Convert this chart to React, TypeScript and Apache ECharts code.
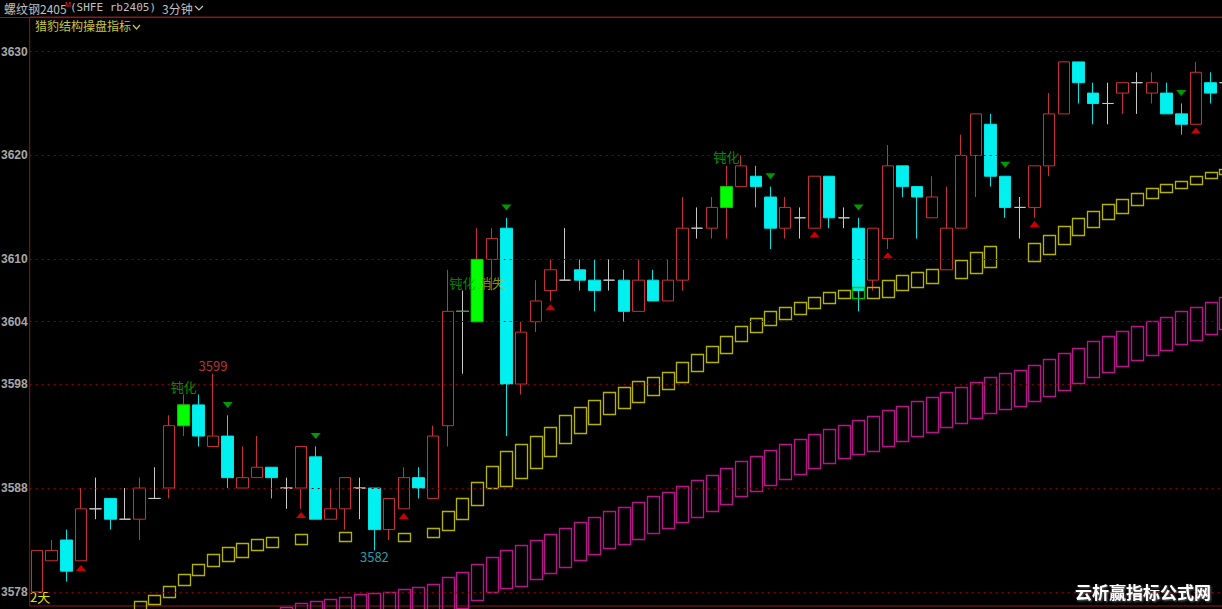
import React, { useEffect, useRef } from 'react';
import * as echarts from 'echarts';

const Y_MIN = 3576.65;
const Y_MAX = 3633.32;
const yTickValues = [3578, 3588, 3598, 3604, 3610, 3620, 3630];

const opens = [3578,3581,3583,3581,3586,3587,3585,3585,3587,3588,3594,3596,3592,3593,3588,3589,3590,3588,3588,3591,3585,3586,3588,3588,3584,3586,3589,3587,3594,3605,3604,3610,3613,3598,3604,3607,3608,3609,3608,3608,3608,3605,3608,3606,3608,3613,3613,3615,3617,3618,3616,3613,3614,3613,3618,3614,3613,3608,3612,3619,3617,3614,3609,3613,3620,3623,3618,3615,3615,3619,3624,3629,3626,3625,3626,3627,3626,3626,3624,3623,3627,3627];
const closes = [3582,3582,3580,3586,3586,3585,3585,3588,3587,3594,3596,3593,3593,3589,3589,3590,3589,3588,3592,3585,3586,3589,3588,3584,3587,3589,3588,3593,3605,3605,3610,3612,3598,3603,3606,3609,3608,3608,3607,3608,3605,3608,3606,3608,3613,3613,3615,3617,3619,3617,3613,3615,3614,3618,3614,3614,3607,3613,3619,3617,3616,3616,3613,3620,3624,3618,3615,3615,3619,3624,3629,3627,3625,3625,3627,3627,3627,3624,3623,3628,3626,3627];
const lows = [3578,3581,3579,3581,3585,3584,3585,3583,3587,3587,3593,3592,3592,3588,3588,3589,3587,3586,3586,3585,3585,3584,3585,3582,3583,3586,3587,3587,3592,3599,3604,3607,3593,3597,3603,3606,3608,3607,3605,3607,3604,3605,3606,3606,3607,3612,3612,3612,3617,3615,3611,3612,3612,3613,3613,3613,3605,3607,3611,3616,3612,3614,3609,3613,3616,3617,3614,3612,3614,3618,3624,3625,3623,3623,3624,3624,3625,3624,3622,3623,3625,3626];
const highs = [3582,3583,3584,3588,3589,3587,3588,3589,3590,3595,3597,3597,3599,3595,3592,3593,3590,3589,3592,3592,3588,3589,3589,3588,3587,3590,3590,3594,3609,3607,3613,3613,3614,3604,3608,3610,3613,3610,3610,3610,3609,3610,3609,3610,3616,3615,3616,3619,3620,3619,3617,3616,3615,3618,3618,3615,3614,3613,3621,3619,3617,3618,3617,3622,3624,3624,3618,3616,3619,3626,3629,3629,3627,3627,3627,3628,3628,3627,3625,3629,3628,3628];
const greenCandles = [10, 29, 30, 47];

const yellowTop = [null,null,null,null,null,null,null,3577.1,3577.7,3578.6,3579.7,3580.7,3581.7,3582.3,3582.7,3583.1,3583.3,null,3583.6,null,null,3583.8,null,null,null,3583.7,null,3584.2,3585.8,3587.0,3588.6,3590.1,3591.6,3592.2,3593.0,3593.9,3595.0,3595.8,3596.5,3597.2,3597.7,3598.3,3598.7,3599.2,3600.1,3600.9,3601.7,3602.6,3603.6,3604.4,3605.0,3605.4,3605.9,3606.4,3606.9,3607.1,3607.3,3607.3,3608.0,3608.5,3608.8,3609.1,null,3609.9,3610.7,3611.3,null,null,3611.6,3612.3,3613.2,3614.0,3614.7,3615.3,3615.8,3616.4,3616.9,3617.3,3617.5,3618.0,3618.4,3618.7];
const yellowBottom = [null,null,null,null,null,null,null,3575.5,3576.8,3577.5,3578.6,3579.6,3580.5,3581.0,3581.4,3582.0,3582.3,null,3582.6,null,null,3582.9,null,null,null,3582.9,null,3583.3,3584.0,3585.0,3586.4,3588.0,3588.2,3588.9,3589.9,3591.1,3592.3,3593.3,3594.2,3595.1,3595.7,3596.3,3597.0,3597.6,3598.2,3599.3,3600.2,3601.0,3602.2,3603.1,3603.7,3604.2,3604.7,3605.3,3605.8,3606.3,3606.2,3606.2,3606.4,3607.1,3607.4,3607.8,null,3608.2,3608.7,3609.3,null,null,3609.9,3610.5,3611.5,3612.4,3613.2,3613.9,3614.5,3615.2,3615.9,3616.5,3616.8,3617.2,3617.8,3618.2];
const yellowGreenIdx = [56];

const magentaTop = [null,null,null,null,null,null,null,null,null,null,null,null,null,null,null,null,null,3576.6,3576.9,3577.1,3577.3,3577.5,3577.8,3577.9,3578.0,3578.3,3578.5,3578.8,3579.4,3579.9,3580.7,3581.4,3582.0,3582.5,3583.0,3583.6,3584.2,3584.7,3585.2,3585.8,3586.2,3586.7,3587.2,3587.6,3588.2,3588.8,3589.3,3589.9,3590.6,3591.1,3591.7,3592.2,3592.7,3593.2,3593.7,3594.1,3594.5,3594.9,3595.5,3595.9,3596.4,3596.8,3597.2,3597.7,3598.2,3598.7,3599.1,3599.4,3599.8,3600.4,3601.0,3601.5,3602.1,3602.6,3603.1,3603.6,3604.1,3604.5,3605.0,3605.4,3605.9,3606.4];
const magentaBottom = [null,null,null,null,null,null,null,null,null,null,null,null,null,null,null,null,null,3573.0,3573.3,3573.5,3573.7,3573.9,3574.2,3574.3,3574.4,3574.7,3574.9,3575.2,3575.8,3576.4,3577.2,3578.0,3578.3,3578.6,3579.2,3579.8,3580.4,3581.0,3581.6,3582.2,3582.6,3583.1,3583.6,3584.1,3584.7,3585.2,3585.8,3586.4,3587.2,3587.7,3588.3,3588.8,3589.3,3589.9,3590.4,3590.9,3591.2,3591.5,3592.0,3592.5,3593.0,3593.4,3593.8,3594.2,3594.7,3595.2,3595.6,3595.9,3596.3,3596.8,3597.4,3598.1,3598.6,3599.1,3599.7,3600.3,3600.8,3601.3,3601.8,3602.2,3602.8,3603.3];

const redUpMarks = [[3,3580.3],[18,3585.4],[25,3585.3],[35,3605.4],[53,3612.4],[58,3610.4],[68,3613.4],[79,3622.4]];
const greenDownMarks = [[13,3596.0],[19,3593.0],[32,3615.0],[50,3618.0],[56,3615.0],[66,3619.1],[78,3626.0]];

const textMarks = [
  { i: 12, v: 3599.8, text: '3599', color: '#e84040' },
  { i: 23, v: 3581.4, text: '3582', color: '#30c8d8' },
  { i: 10, v: 3597.8, text: '钝化', color: '#00b400' },
  { i: 29, v: 3607.8, text: '钝化', color: '#00a800' },
  { i: 31, v: 3607.8, text: '消失', color: '#b4b400' },
  { i: 47, v: 3619.9, text: '钝化', color: '#00b400' },
];

const categories = opens.map((_, i) => String(i));

function boxSeries(name: string, tops: (number | null)[], bottoms: (number | null)[], color: string, specialIdx: number[], specialColor: string) {
  const data: any[] = [];
  tops.forEach((t, i) => {
    if (t != null && bottoms[i] != null) data.push([i, t, bottoms[i]]);
  });
  return {
    type: 'custom',
    name,
    data,
    encode: { x: 0, y: [1, 2] },
    silent: true,
    z: 4,
    renderItem: (params: any, api: any) => {
      const i = api.value(0);
      const p1 = api.coord([i, api.value(1)]);
      const p2 = api.coord([i, api.value(2)]);
      const w = api.size([1, 0])[0] * 0.83;
      const cs = params.coordSys;
      const y1 = Math.max(p1[1], cs.y);
      const y2 = Math.min(p2[1], cs.y + cs.height + 6);
      if (y2 <= y1) return null;
      const c = specialIdx.indexOf(i) >= 0 ? specialColor : color;
      return {
        type: 'rect',
        shape: { x: Math.round(p1[0] - w / 2) + 0.5, y: Math.round(y1) + 0.5, width: Math.round(w), height: Math.round(y2 - y1) },
        style: { fill: 'none', stroke: c, lineWidth: 1.3 },
      };
    },
  };
}

export default function App() {
  const ref = useRef<HTMLDivElement>(null);
  useEffect(() => {
    document.body.style.margin = '0';
    document.body.style.background = '#000';
    document.body.style.overflow = 'hidden';
    const chart = echarts.init(ref.current!, null, { renderer: 'svg' });

    const candleData = opens.map((o, i) => {
      const item: any = { value: [o, closes[i], lows[i], highs[i]] };
      if (o === closes[i]) {
        item.itemStyle = { borderColor: '#c8c8c8', borderColor0: '#c8c8c8', color: '#c8c8c8', color0: '#c8c8c8' };
      }
      return item;
    });

    const greenBody = greenCandles.map((i) => [i, opens[i], closes[i]]);

    const option: any = {
      backgroundColor: '#000000',
      animation: false,
      grid: { left: 29.67, right: -10.6, top: 17, bottom: 3, outerBoundsMode: 'none', containLabel: false, show: true, borderColor: '#8b1a1a', borderWidth: 1, backgroundColor: 'transparent' },
      xAxis: {
        type: 'category', data: categories, boundaryGap: true,
        axisLine: { show: false }, axisTick: { show: false }, axisLabel: { show: false }, splitLine: { show: false },
      },
      yAxis: {
        type: 'value', min: Y_MIN, max: Y_MAX, position: 'left',
        axisLine: { show: false }, axisTick: { show: false }, splitLine: { show: false },
        axisLabel: { customValues: yTickValues, formatter: (v: number) => String(Math.round(v)), color: '#a8a8a8', fontSize: 12, fontWeight: 'bold', margin: 2, fontFamily: 'Liberation Sans, Arial, sans-serif' },
      },
      graphic: [
        { type: 'line', shape: { x1: 0, y1: 17.5, x2: 1222, y2: 17.5 }, style: { stroke: '#8b1a1a', lineWidth: 1 }, z: 10 },
        { type: 'text', left: 4, top: 2, style: { text: '螺纹钢2405', fill: '#c0c0c0', font: '12px "Noto Sans CJK SC", sans-serif' } },
        { type: 'text', left: 65, top: 1, style: { text: 'M', fill: '#e03030', font: '7px "Liberation Sans", sans-serif' } },
        { type: 'text', left: 70, top: 2, style: { text: '(SHFE rb2405)', fill: '#c0c0c0', font: '11px "DejaVu Sans Mono", monospace' } },
        { type: 'text', left: 162, top: 2, style: { text: '3分钟', fill: '#c0c0c0', font: '12px "Noto Sans CJK SC", sans-serif' } },
        { type: 'polyline', shape: { points: [[195, 6], [199, 10], [203, 6]] }, style: { stroke: '#c0c0c0', lineWidth: 1.2, fill: 'none' } },
        { type: 'text', left: 35, top: 19, style: { text: '猎豹结构操盘指标', fill: '#c8c83c', font: '12px "Noto Sans CJK SC", sans-serif' } },
        { type: 'polyline', shape: { points: [[133, 25], [136.5, 29], [140, 25]] }, style: { stroke: '#c8c83c', lineWidth: 1.2, fill: 'none' } },
        { type: 'text', left: 30, top: 590, style: { text: '2天', fill: '#e6e600', font: '13px "Noto Sans CJK SC", sans-serif' } },
        { type: 'text', left: 1075, top: 583, z: 20, style: { text: '云析赢指标公式网', fill: '#ffffff', font: 'bold 17px "Noto Sans CJK SC", sans-serif', textShadowColor: 'rgba(120,120,120,0.9)', textShadowBlur: 2, textShadowOffsetX: 1, textShadowOffsetY: 1 } },
      ],
      series: [
        {
          type: 'candlestick',
          name: 'K',
          data: candleData,
          barWidth: 12,
          z: 3,
          itemStyle: {
            color: 'rgba(0,0,0,0)', color0: '#00f0f0',
            borderColor: '#c83232', borderColor0: '#00e6e6', borderColorDoji: '#c8c8c8', borderWidth: 1,
          },
          markLine: {
            silent: true, symbol: 'none', label: { show: false }, animation: false,
            lineStyle: { color: '#8b0000', type: [2, 4], width: 1 },
            data: yTickValues.map((v) => ({ yAxis: v })),
          },
        },
        {
          type: 'custom', name: 'greenBody', data: greenBody, encode: { x: 0, y: [1, 2] }, z: 5, silent: true,
          renderItem: (params: any, api: any) => {
            const i = api.value(0);
            const p1 = api.coord([i, Math.max(api.value(1), api.value(2))]);
            const p2 = api.coord([i, Math.min(api.value(1), api.value(2))]);
            const w = 12;
            if (Math.abs(p2[1] - p1[1]) < 0.5) {
              return { type: 'line', shape: { x1: p1[0] - w / 2, y1: p1[1], x2: p1[0] + w / 2, y2: p1[1] }, style: { stroke: '#00b400', lineWidth: 1 } };
            }
            return { type: 'rect', shape: { x: p1[0] - w / 2, y: p1[1], width: w, height: p2[1] - p1[1] }, style: { fill: '#00ff00', stroke: '#00c800', lineWidth: 1 } };
          },
        },
        boxSeries('yellow', yellowTop, yellowBottom, '#b4b400', yellowGreenIdx, '#00c000'),
        boxSeries('magenta', magentaTop, magentaBottom, '#b8148c', [], '#b8148c'),
        {
          type: 'scatter', name: 'up', data: redUpMarks, symbol: 'triangle', symbolSize: [10, 6], z: 6,
          itemStyle: { color: '#ff0000' }, silent: true,
        },
        {
          type: 'scatter', name: 'down', data: greenDownMarks, symbol: 'triangle', symbolRotate: 180, symbolSize: [10, 6], z: 6,
          itemStyle: { color: '#00c000' }, silent: true,
        },
        {
          type: 'scatter', name: 'labels', z: 7, silent: true, symbolSize: 0.1,
          itemStyle: { color: 'rgba(0,0,0,0)' },
          data: textMarks.map((t) => ({
            value: [t.i, t.v], name: t.text,
            label: { show: true, position: 'inside', formatter: t.text, color: t.color, fontSize: 13, fontFamily: '"Noto Sans CJK SC", "Liberation Sans", sans-serif' },
          })),
        },
      ],
    };
    chart.setOption(option);
    return () => chart.dispose();
  }, []);
  return <div ref={ref} style={{ width: 1222, height: 609, background: '#000' }} />;
}
